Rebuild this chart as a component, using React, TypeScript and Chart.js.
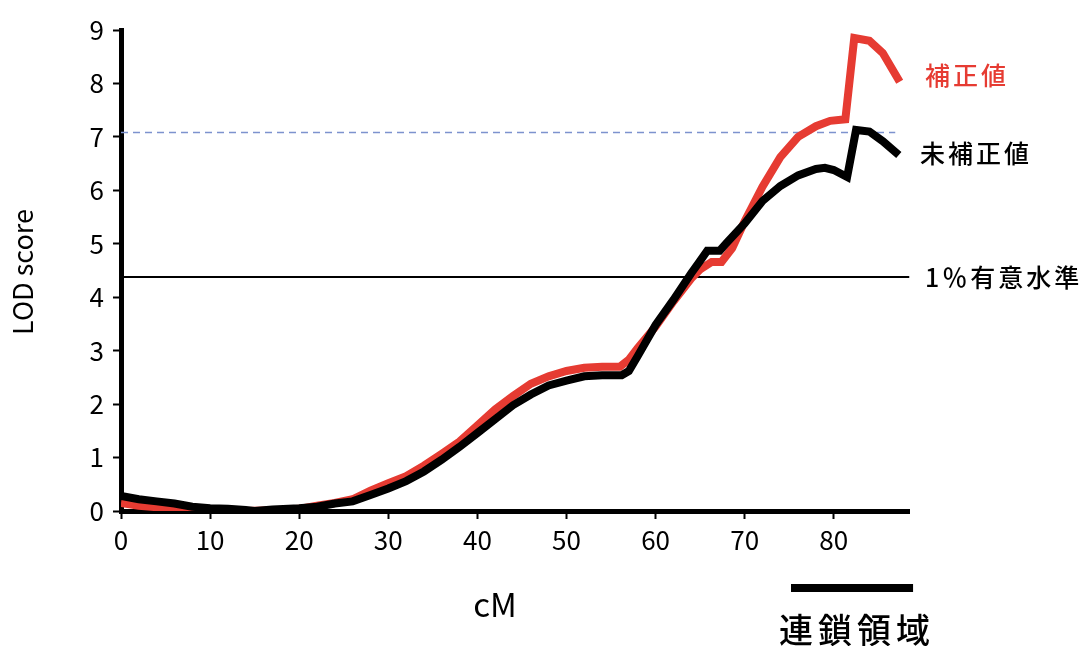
import React, { useEffect, useRef } from "react";
import { Chart, registerables } from "chart.js";

Chart.register(...registerables);

// cM positions and LOD scores (uncorrected, black)
const cmUncorrected = [0, 2, 4, 6, 8, 10, 12, 14, 15, 17, 20, 22, 24, 26, 28, 30, 32, 34, 36, 38, 40, 42, 44, 46, 48, 50, 52, 54, 56.2, 57, 58, 60, 62, 64, 65, 65.8, 67.2, 68, 70, 72, 74, 76, 78, 79, 80, 81.5, 82.5, 84, 85.5, 87.3];
const lodUncorrected = [0.28, 0.22, 0.18, 0.14, 0.08, 0.05, 0.04, 0.02, 0.0, 0.03, 0.05, 0.08, 0.14, 0.18, 0.3, 0.42, 0.56, 0.74, 0.96, 1.2, 1.46, 1.72, 1.98, 2.18, 2.35, 2.44, 2.52, 2.54, 2.54, 2.62, 2.9, 3.48, 3.95, 4.45, 4.68, 4.87, 4.87, 5.02, 5.38, 5.8, 6.08, 6.28, 6.4, 6.42, 6.38, 6.25, 7.13, 7.1, 6.92, 6.66];

// cM positions and LOD scores (corrected, red)
const cmCorrected = [0, 2, 4, 6, 8, 10, 12, 14, 16, 18, 20, 22, 24, 26, 28, 30, 32, 34, 36, 38, 40, 42, 44, 46, 48, 50, 52, 54, 56, 57, 58, 60, 62, 64, 65, 66.3, 67.4, 68.6, 70, 72, 74, 76, 78, 79.6, 81.3, 82.3, 84, 85.5, 87.4];
const lodCorrected = [0.15, 0.1, 0.07, 0.03, 0.0, 0.0, 0.0, 0.0, 0.01, 0.02, 0.04, 0.1, 0.15, 0.22, 0.38, 0.52, 0.65, 0.85, 1.07, 1.3, 1.6, 1.9, 2.15, 2.38, 2.52, 2.62, 2.68, 2.7, 2.7, 2.83, 3.05, 3.45, 3.92, 4.35, 4.52, 4.66, 4.66, 4.92, 5.42, 6.07, 6.62, 7.0, 7.2, 7.3, 7.33, 8.85, 8.8, 8.57, 8.03];

// thresholds
const significance1pct = 4.38;
const dashedThreshold = 7.08;
const xRange = [0, 88.5];
const dashedEnd = 86.9;
const linkageRegion = [75.2, 88.9];

const labelCorrected = "補正値";
const labelUncorrected = "未補正値";
const labelSignificance = "1％有意水準";
const labelLinkage = "連鎖領域";
const yTitle = "LOD score";
const xTitle = "cM";

const FONT = '"Noto Sans CJK JP", "Noto Sans", sans-serif';
const RED = "#E63B32";

const toXY = (xs: number[], ys: number[]) => xs.map((x, i) => ({ x, y: ys[i] }));

const annotationPlugin = {
  id: "annotations",
  afterDraw(chart: any) {
    const { ctx, scales } = chart;
    const x = scales.x;
    const y = scales.y;
    ctx.save();
    ctx.textBaseline = "middle";
    // y title
    ctx.save();
    ctx.translate(23, 272);
    ctx.rotate(-Math.PI / 2);
    ctx.font = `27px ${FONT}`;
    ctx.fillStyle = "#000";
    ctx.textAlign = "center";
    ctx.fillText(yTitle, 0, 0);
    ctx.restore();
    // x title
    ctx.font = `33px ${FONT}`;
    ctx.fillStyle = "#000";
    ctx.textAlign = "center";
    ctx.fillText(xTitle, 495, 604);
    // right labels
    ctx.textAlign = "left";
    (ctx as any).letterSpacing = "3px";
    ctx.font = `500 25px ${FONT}`;
    ctx.fillStyle = RED;
    ctx.fillText(labelCorrected, 925, 75);
    ctx.fillStyle = "#000";
    ctx.fillText(labelUncorrected, 920, 153);
    ctx.fillText(labelSignificance, 925, y.getPixelForValue(significance1pct) + 1);
    // linkage region bar
    const x1 = x.getPixelForValue(linkageRegion[0]);
    const x2 = x.getPixelForValue(linkageRegion[1]);
    ctx.fillRect(x1, 584, x2 - x1, 8);
    (ctx as any).letterSpacing = "5px";
    ctx.font = `500 34px ${FONT}`;
    ctx.fillText(labelLinkage, 779, 630);
    ctx.restore();
  },
};

export default function App() {
  const ref = useRef<HTMLCanvasElement>(null);
  useEffect(() => {
    if (!ref.current) return;
    const chart = new Chart(ref.current, {
      type: "line",
      data: {
        datasets: [
          {
            label: labelUncorrected,
            data: toXY(cmUncorrected, lodUncorrected),
            borderColor: "#000",
            borderWidth: 8,
            pointRadius: 0,
            tension: 0,
          },
          {
            label: labelCorrected,
            data: toXY(cmCorrected, lodCorrected),
            borderColor: RED,
            borderWidth: 8,
            pointRadius: 0,
            tension: 0,
          },
          {
            label: labelSignificance,
            data: [
              { x: xRange[0], y: significance1pct },
              { x: xRange[1], y: significance1pct },
            ],
            borderColor: "#000",
            borderWidth: 2,
            pointRadius: 0,
          },
          {
            label: "threshold",
            data: [
              { x: xRange[0], y: dashedThreshold },
              { x: dashedEnd, y: dashedThreshold },
            ],
            borderColor: "#7D92CE",
            borderWidth: 1.5,
            borderDash: [7, 5],
            pointRadius: 0,
          },
        ],
      },
      options: {
        animation: false,
        responsive: false,
        layout: { padding: { left: 0, top: 30, right: 172.5, bottom: 0 } },
        plugins: { legend: { display: false }, tooltip: { enabled: false } },
        scales: {
          x: {
            type: "linear",
            min: xRange[0],
            max: xRange[1],
            afterFit: (s: any) => {
              s.height = 135;
            },
            grid: { drawOnChartArea: false, tickLength: 8, tickWidth: 2, tickColor: "#000" },
            border: { color: "#000", width: 5 },
            ticks: {
              stepSize: 10,
              includeBounds: false,
              color: "#000",
              font: { size: 26, family: FONT },
              padding: 6,
              maxRotation: 0,
            },
          },
          y: {
            type: "linear",
            min: 0,
            max: 9,
            afterFit: (s: any) => {
              s.width = 121;
            },
            grid: { drawOnChartArea: false, tickLength: 8, tickWidth: 2, tickColor: "#000" },
            border: { color: "#000", width: 5 },
            ticks: {
              stepSize: 1,
              color: "#000",
              font: { size: 26, family: FONT },
              padding: 9,
            },
          },
        },
      },
      plugins: [annotationPlugin],
    });
    return () => chart.destroy();
  }, []);
  return (
    <canvas
      ref={ref}
      width={1082}
      height={646}
      style={{ position: "fixed", left: 0, top: 0, display: "block", background: "#fff" }}
    />
  );
}
